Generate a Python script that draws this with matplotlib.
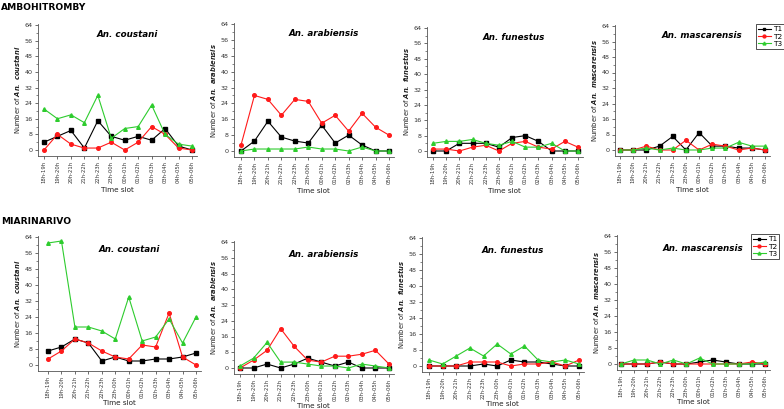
import matplotlib
matplotlib.use("Agg")
import matplotlib.pyplot as plt
from matplotlib.ticker import MultipleLocator

slots = ["18h-19h", "19h-20h", "20h-21h", "21h-22h", "22h-23h", "23h-00h",
         "00h-01h", "01h-02h", "02h-03h", "03h-04h", "04h-05h", "05h-06h"]
series_names = ["T1", "T2", "T3"]
sites = ["AMBOHITROMBY", "MIARINARIVO"]
species = ["An. coustani", "An. arabiensis", "An. funestus", "An. mascarensis"]

# Ambohitromby
amb_coustani_T1 = [4, 7, 10, 1, 15, 7, 5, 7, 5, 11, 2, 0]
amb_coustani_T2 = [0, 8, 3, 1, 1, 4, 0, 4, 12, 8, 1, 0]
amb_coustani_T3 = [21, 16, 18, 14, 28, 6, 11, 12, 23, 8, 3, 2]
amb_arabiensis_T1 = [0, 5, 15, 7, 5, 4, 13, 4, 8, 3, 0, 0]
amb_arabiensis_T2 = [3, 28, 26, 18, 26, 25, 14, 18, 10, 19, 12, 8]
amb_arabiensis_T3 = [0, 1, 1, 1, 1, 2, 1, 1, 0, 2, 0, 0]
amb_funestus_T1 = [0, 0, 4, 4, 4, 2, 7, 8, 5, 0, 0, 0]
amb_funestus_T2 = [1, 1, 0, 2, 3, 0, 4, 5, 2, 1, 5, 2]
amb_funestus_T3 = [4, 5, 5, 6, 4, 3, 5, 2, 2, 4, 0, 0]
amb_mascarensis_T1 = [0, 0, 0, 2, 7, 0, 9, 2, 2, 1, 1, 0]
amb_mascarensis_T2 = [0, 0, 2, 0, 0, 5, 0, 3, 2, 0, 1, 0]
amb_mascarensis_T3 = [0, 0, 1, 0, 1, 0, 0, 1, 1, 4, 2, 2]

# Miarinarivo
mia_coustani_T1 = [7, 9, 13, 11, 2, 4, 2, 2, 3, 3, 4, 6]
mia_coustani_T2 = [3, 7, 13, 11, 7, 4, 3, 10, 9, 26, 4, 0]
mia_coustani_T3 = [61, 62, 19, 19, 17, 13, 34, 12, 14, 23, 11, 24]
mia_arabiensis_T1 = [0, 0, 2, 0, 2, 5, 3, 1, 3, 0, 0, 0]
mia_arabiensis_T2 = [0, 4, 9, 20, 11, 4, 3, 6, 6, 7, 9, 2]
mia_arabiensis_T3 = [1, 5, 13, 3, 3, 2, 1, 1, 0, 2, 1, 0]
mia_funestus_T1 = [0, 0, 0, 0, 1, 0, 3, 2, 2, 1, 0, 0]
mia_funestus_T2 = [0, 0, 0, 2, 2, 2, 0, 1, 1, 2, 0, 3]
mia_funestus_T3 = [3, 1, 5, 9, 5, 11, 6, 10, 3, 2, 3, 1]
mia_mascarensis_T1 = [0, 0, 0, 1, 0, 0, 1, 2, 1, 0, 0, 0]
mia_mascarensis_T2 = [0, 0, 0, 1, 0, 0, 0, 0, 0, 0, 1, 0]
mia_mascarensis_T3 = [0, 2, 2, 0, 2, 0, 3, 0, 0, 0, 0, 1]

data = [
    [(amb_coustani_T1, amb_coustani_T2, amb_coustani_T3),
     (amb_arabiensis_T1, amb_arabiensis_T2, amb_arabiensis_T3),
     (amb_funestus_T1, amb_funestus_T2, amb_funestus_T3),
     (amb_mascarensis_T1, amb_mascarensis_T2, amb_mascarensis_T3)],
    [(mia_coustani_T1, mia_coustani_T2, mia_coustani_T3),
     (mia_arabiensis_T1, mia_arabiensis_T2, mia_arabiensis_T3),
     (mia_funestus_T1, mia_funestus_T2, mia_funestus_T3),
     (mia_mascarensis_T1, mia_mascarensis_T2, mia_mascarensis_T3)],
]

colors = ["#000000", "#ff1a1a", "#2ecc2e"]
markers = ["s", "o", "^"]

W, H = 784, 409
fig = plt.figure(figsize=(W / 100, H / 100), dpi=100)
plt.rcParams['font.family'] = ['DejaVu Sans']
plt.rcParams['mathtext.fontset'] = 'dejavusans'

# layout in pixels: (spine_x, first_tick_x, last_tick_x, y_of_64, y_of_0)
layout = [
    [(38, 44, 192, 25, 150), (234, 241, 389, 24, 151), (427, 433, 578, 28, 151), (615, 620, 765, 26, 150)],
    [(38, 48, 196, 237, 365), (234, 240, 389, 242, 368), (422, 429, 579, 238, 366), (617, 621, 765, 236, 364)],
]
y_lo, y_hi = -3.0, 64.5
edge = "#555555"

for r in range(2):
    for c in range(4):
        sx, fx, lx, y64, y0 = layout[r][c]
        s = (lx - fx) / 11.0
        xl = -(fx - sx) / s
        xr = 11.35
        left_px = sx
        width_px = (xr - xl) * s
        py = lambda v: y0 - v * (y0 - y64) / 64.0
        bot_px, top_px = py(y_lo), py(y_hi)
        ax = fig.add_axes([left_px / W, 1 - bot_px / H, width_px / W, (bot_px - top_px) / H])
        x = list(range(len(slots)))
        for k in range(3):
            ax.plot(x, data[r][c][k], color=colors[k], marker=markers[k],
                    markersize=2.6, linewidth=0.8, label=series_names[k])
        ax.set_xlim(xl, xr)
        ax.set_ylim(y_lo, y_hi)
        ax.set_xticks(x)
        ax.set_xticklabels(slots, rotation=90, fontsize=3.8, color="#333333")
        ax.yaxis.set_major_locator(MultipleLocator(8))
        ax.yaxis.set_minor_locator(MultipleLocator(4))
        ax.tick_params(axis='y', labelsize=4.6, colors="#333333", length=2.2, width=0.5, pad=1.5)
        ax.tick_params(axis='y', which='minor', length=1.3, width=0.5, color="#555555")
        ax.tick_params(axis='x', length=2.2, width=0.5, pad=1.5, colors="#333333")
        for sp in ['top', 'right']:
            ax.spines[sp].set_visible(False)
        for sp in ['left', 'bottom']:
            ax.spines[sp].set_color(edge)
            ax.spines[sp].set_linewidth(0.6)
        name = species[c]
        ax.text(0.56, 0.92 if r == 0 else 0.9, name, transform=ax.transAxes, ha='center', va='center',
                fontsize=6.3, fontweight='bold', fontstyle='italic')
        ax.set_ylabel("Number of " + r"$\mathbfit{" + name.replace(" ", r"\ ") + "}$",
                      fontsize=4.9, labelpad=2, color="#222222")
        ax.set_xlabel("Time slot", fontsize=5.2, labelpad=2.5 if r == 0 else 1.5, color="#222222")
        if c == 3:
            lx0 = 756 if r == 0 else 751
            ly0 = 24 if r == 0 else 234
            leg = ax.legend(loc='upper left', bbox_to_anchor=(lx0 / W, 1 - ly0 / H),
                            bbox_transform=fig.transFigure, fontsize=5.3, frameon=True,
                            fancybox=False, handlelength=1.7, borderpad=0.3,
                            labelspacing=0.15, handletextpad=0.3, borderaxespad=0,
                            markerscale=0.8)
            leg.get_frame().set_edgecolor("#000000")
            leg.get_frame().set_linewidth(0.6)

fig.text(1 / W, 1 - 7 / H, sites[0], fontsize=6.6, fontweight='bold', ha='left', va='center')
fig.text(1 / W, 1 - 222 / H, sites[1], fontsize=6.6, fontweight='bold', ha='left', va='center')

fig.savefig("out.png", dpi=100)
